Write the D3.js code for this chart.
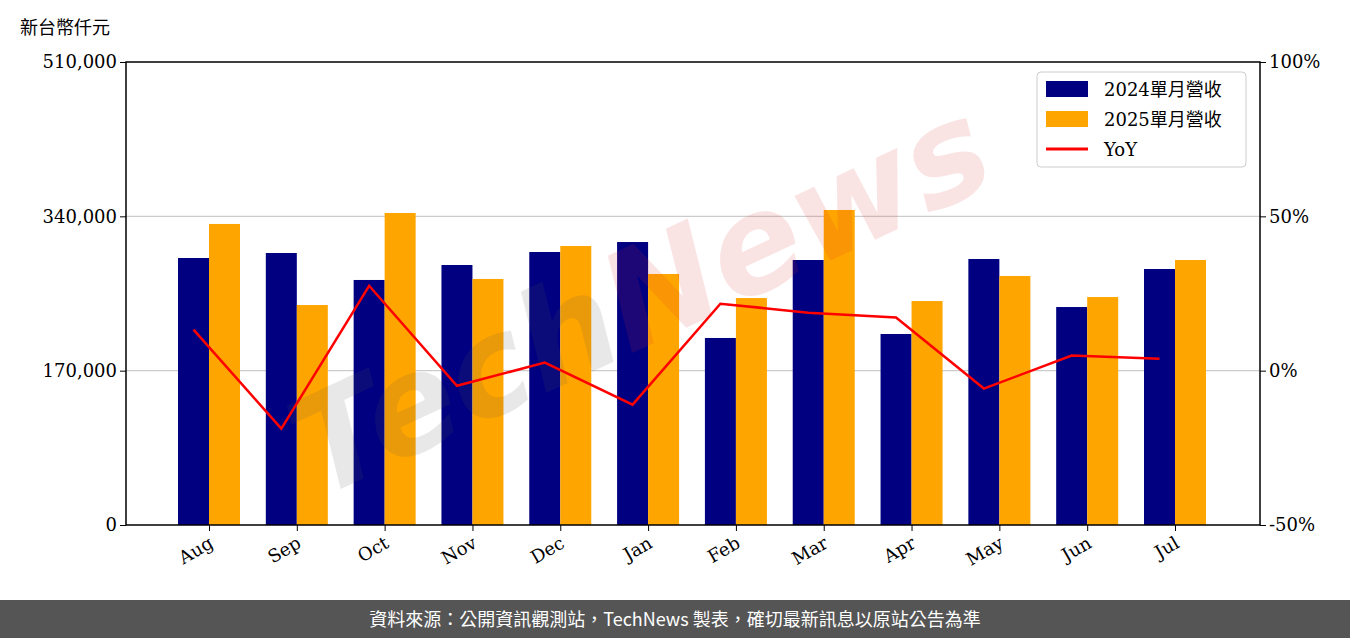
<!DOCTYPE html><html><head><meta charset="utf-8"><script src="https://cdn.jsdelivr.net/npm/d3@7"></script>
<style>body{margin:0;background:#fff}</style></head><body><svg id="c" width="1350" height="638"></svg><script>
const months=["Aug","Sep","Oct","Nov","Dec","Jan","Feb","Mar","Apr","May","Jun","Jul"];
const rev2024=[294100,299600,269900,286400,300700,311700,206000,291900,210400,293000,240100,282000];
const rev2025=[331600,242300,343700,271000,307300,276500,250000,347000,246700,274300,251100,291900];
const yoy=[13.3,-18.8,27.5,-4.9,2.6,-11,21.7,18.8,17.2,-5.8,4.9,3.9];
const leftTicks=[0,170000,340000,510000];
const rightTicks=[-50,0,50,100];
const svg=d3.select("#c");
const L=126,R=1260,T=62,B=525;
const y=d3.scaleLinear().domain([0,510000]).range([B,T]);
const y2=d3.scaleLinear().domain([-50,100]).range([B,T]);
const x=d3.scaleLinear().domain([0,11]).range([209,1175]);
const bw=31;
const serif="DejaVu Serif";
svg.selectAll(".g").data(leftTicks.slice(1,3)).enter().append("line").attr("x1",L).attr("x2",R)
 .attr("y1",d=>y(d)).attr("y2",d=>y(d)).attr("stroke","#ccc").attr("stroke-width",1.2);
svg.selectAll(".b1").data(rev2024).enter().append("rect").attr("x",(d,i)=>x(i)-bw).attr("width",bw)
 .attr("y",d=>y(d)).attr("height",d=>B-y(d)).attr("fill","#000080");
svg.selectAll(".b2").data(rev2025).enter().append("rect").attr("x",(d,i)=>x(i)).attr("width",bw)
 .attr("y",d=>y(d)).attr("height",d=>B-y(d)).attr("fill","#FFA500");
const wm=svg.append("text").attr("x",660).attr("y",340).attr("transform","rotate(-25,660,340)")
 .attr("text-anchor","middle").attr("font-family","DejaVu Sans").attr("font-weight","bold").attr("font-style","italic")
 .attr("font-size",135).attr("opacity",0.13);
wm.append("tspan").attr("fill","#555").text("Tech");
wm.append("tspan").attr("fill","#d33").text("News");
svg.append("path").datum(yoy).attr("d",d3.line().x((d,i)=>x(i)-bw/2).y(d=>y2(d)))
 .attr("fill","none").attr("stroke","red").attr("stroke-width",2.5);
svg.append("rect").attr("x",L).attr("y",T).attr("width",R-L).attr("height",B-T).attr("fill","none").attr("stroke","#000").attr("stroke-width",1.5);
const ax=svg.append("g").attr("transform",`translate(${L},0)`).call(d3.axisLeft(y).tickValues(leftTicks).tickFormat(d3.format(",")).tickSizeOuter(0));
const ax2=svg.append("g").attr("transform",`translate(${R},0)`).call(d3.axisRight(y2).tickValues(rightTicks).tickFormat(d=>d+"%").tickSizeOuter(0));
[ax,ax2].forEach(a=>{a.select(".domain").remove();a.selectAll("text").attr("font-family",serif).attr("font-size",18).attr("fill","#000");a.selectAll("line").attr("stroke","#000");});
const xa=svg.append("g").attr("transform",`translate(0,${B})`).call(d3.axisBottom(x).tickValues(d3.range(12)).tickFormat(i=>months[i]).tickSizeOuter(0));
xa.select(".domain").remove();
xa.selectAll("line").attr("stroke","#000");
xa.selectAll("text").attr("font-family",serif).attr("font-size",18).attr("fill","#000")
 .attr("text-anchor","end").attr("transform","translate(-4,6) rotate(-30)").attr("dy","0.5em");
svg.append("text").attr("x",20).attr("y",34).attr("font-family","Noto Sans CJK TC").attr("font-size",18).text("新台幣仟元");
const lg=svg.append("g");
lg.append("rect").attr("x",1037).attr("y",72).attr("width",209).attr("height",95).attr("rx",4).attr("fill","#fff").attr("fill-opacity",0.8).attr("stroke","#ccc");
const items=[["2024單月營收","#000080","r"],["2025單月營收","#FFA500","r"],["YoY","red","l"]];
items.forEach((it,i)=>{const cy=89+i*30;
 if(it[2]=="r")lg.append("rect").attr("x",1046).attr("y",cy-8).attr("width",42).attr("height",16).attr("fill",it[1]);
 else lg.append("line").attr("x1",1046).attr("x2",1088).attr("y1",cy).attr("y2",cy).attr("stroke",it[1]).attr("stroke-width",3);
 lg.append("text").attr("x",1104).attr("y",cy+7).attr("font-family",serif+", Noto Sans CJK TC").attr("font-size",18).text(it[0]);});
svg.append("rect").attr("x",0).attr("y",600).attr("width",1350).attr("height",38).attr("fill","#555");
svg.append("text").attr("x",675).attr("y",626).attr("text-anchor","middle").attr("fill","#fff").attr("font-family","Noto Sans CJK TC").attr("font-size",18)
 .text("資料來源：公開資訊觀測站，TechNews 製表，確切最新訊息以原站公告為準");
</script></body></html>
